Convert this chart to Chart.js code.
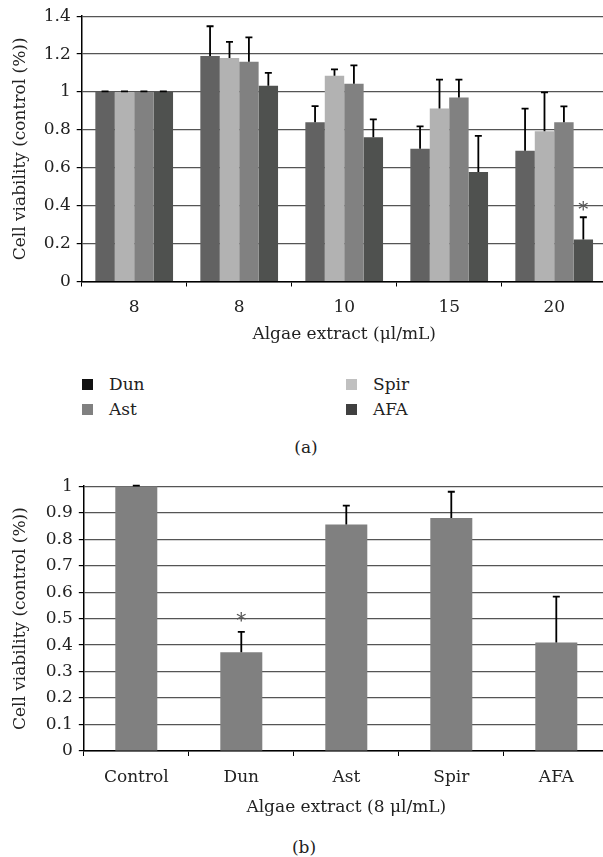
<!DOCTYPE html>
<html>
<head>
<meta charset="utf-8">
<script src="https://cdn.jsdelivr.net/npm/chart.js@4.4.1/dist/chart.umd.min.js"></script>
<style>
  html, body { margin: 0; padding: 0; background: #fff; overflow: hidden; width: 603px; height: 857px; }
  body { position: relative; font-family: "DejaVu Serif", serif; color: #222; }
  .box { position: absolute; left: 0; }
  .legend-item { position: absolute; font-size: 17px; line-height: 17px; white-space: nowrap; }
  .legend-item span.sw { position: absolute; left: 0; top: 3px; width: 11px; height: 11px; }
  .legend-item span.tx { position: absolute; top: 0; }
  .caption { position: absolute; font-size: 17px; transform: translateX(-50%); }
</style>
</head>
<body>
<div class="box" style="top:0;width:612px;height:345px"><canvas id="chartA"></canvas></div>
<div id="legendA"></div>
<div class="caption" style="left:306px;top:437px">(a)</div>
<div class="box" style="top:470px;width:612px;height:348px"><canvas id="chartB"></canvas></div>
<div class="caption" style="left:304px;top:837px">(b)</div>

<script>
// ---- data, panel (a) ----
const doseLabels = ['8', '8', '10', '15', '20'];
const dunValues  = [1.00, 1.19, 0.84, 0.70, 0.69];
const dunErrors  = [0.003, 0.157, 0.085, 0.119, 0.222];
const spirValues = [1.00, 1.18, 1.086, 0.913, 0.793];
const spirErrors = [0.003, 0.085, 0.033, 0.152, 0.205];
const astValues  = [1.00, 1.159, 1.044, 0.971, 0.84];
const astErrors  = [0.003, 0.129, 0.096, 0.094, 0.084];
const afaValues  = [1.00, 1.033, 0.761, 0.578, 0.222];
const afaErrors  = [0.003, 0.068, 0.095, 0.19, 0.117];
const afaStars   = [null, null, null, null, 0.395];

// ---- data, panel (b) ----
const extractLabels = ['Control', 'Dun', 'Ast', 'Spir', 'AFA'];
const extractValues = [1.00, 0.373, 0.855, 0.88, 0.41];
const extractErrors = [0.002, 0.077, 0.072, 0.099, 0.173];
const extractStars  = [null, 0.503, null, null, null];

const FONT = { family: '"DejaVu Serif", serif', size: 17 };
const TEXT = '#222';

// draws upper error bars and significance stars through the y scale
const errorBars = {
  id: 'errorBars',
  afterDatasetsDraw(chart) {
    const ctx = chart.ctx;
    const y = chart.scales.y;
    ctx.save();
    chart.data.datasets.forEach((ds, i) => {
      const meta = chart.getDatasetMeta(i);
      meta.data.forEach((bar, j) => {
        if (ds.errors) {
          const top = y.getPixelForValue(ds.data[j] + ds.errors[j]);
          ctx.strokeStyle = '#000';
          ctx.lineWidth = 1.8;
          ctx.beginPath();
          ctx.moveTo(bar.x, bar.y);
          ctx.lineTo(bar.x, top);
          ctx.moveTo(bar.x - 3.5, top);
          ctx.lineTo(bar.x + 3.5, top);
          ctx.stroke();
        }
        if (ds.stars && ds.stars[j] != null) {
          ctx.fillStyle = '#555';
          ctx.font = '20px "DejaVu Serif", serif';
          ctx.textAlign = 'center';
          ctx.textBaseline = 'middle';
          ctx.fillText('*', bar.x, y.getPixelForValue(ds.stars[j]) + 4);
        }
      });
    });
    ctx.restore();
  }
};

function fmt(v) { return String(Number(v.toFixed(1))); }

function makeOptions(o) {
  return {
    responsive: true,
    maintainAspectRatio: false,
    animation: false,
    layout: { padding: { top: o.padTop, left: 0, right: o.padRight, bottom: 0 } },
    plugins: { legend: { display: false }, tooltip: { enabled: false } },
    scales: {
      x: {
        afterFit: s => { s.height = o.xHeight; },
        grid: { display: true, drawOnChartArea: false, drawTicks: true, tickLength: 5, tickColor: '#000', offset: true },
        border: { color: '#000', width: 1.5 },
        ticks: { color: TEXT, font: FONT, padding: 11, maxRotation: 0 },
        title: { display: true, text: o.xTitle, color: TEXT, font: FONT, padding: { top: 0, bottom: 0 } }
      },
      y: {
        min: 0,
        max: o.yMax,
        afterFit: s => { s.width = o.yWidth; },
        grid: { color: '#555', lineWidth: 1.2, tickLength: 5, tickColor: '#000' },
        border: { color: '#000', width: 1.5 },
        ticks: { stepSize: o.step, color: TEXT, font: FONT, padding: 6, callback: fmt },
        title: { display: true, text: 'Cell viability (control (%))', color: TEXT, font: FONT, padding: { top: 10, bottom: 0 } }
      }
    }
  };
}

new Chart(document.getElementById('chartA'), {
  type: 'bar',
  data: {
    labels: doseLabels,
    datasets: [
      { label: 'Dun',  data: dunValues,  errors: dunErrors,  backgroundColor: '#626262' },
      { label: 'Spir', data: spirValues, errors: spirErrors, backgroundColor: '#b2b2b2' },
      { label: 'Ast',  data: astValues,  errors: astErrors,  backgroundColor: '#818181' },
      { label: 'AFA',  data: afaValues,  errors: afaErrors,  backgroundColor: '#4f514f', stars: afaStars }
    ].map(d => Object.assign(d, { categoryPercentage: 0.74, barPercentage: 1, borderWidth: 0 }))
  },
  options: makeOptions({ padTop: 14, padRight: 5.3, xHeight: 63.5, yWidth: 81.7, yMax: 1.4, step: 0.2,
                         xTitle: 'Algae extract (\u03bcl/mL)' }),
  plugins: [errorBars]
});

new Chart(document.getElementById('chartB'), {
  type: 'bar',
  data: {
    labels: extractLabels,
    datasets: [
      { label: 'Viability', data: extractValues, errors: extractErrors, stars: extractStars,
        backgroundColor: '#808080', borderWidth: 0, categoryPercentage: 0.4, barPercentage: 1 }
    ]
  },
  options: makeOptions({ padTop: 13, padRight: 3.2, xHeight: 67, yWidth: 83.8, yMax: 1, step: 0.1,
                         xTitle: 'Algae extract (8 \u03bcl/mL)' }),
  plugins: [errorBars]
});

// legend for panel (a), two columns as in the figure
const legendEntries = [
  { label: 'Dun',  color: '#111111', x: 82,  y: 376 },
  { label: 'Spir', color: '#c0c0c0', x: 346, y: 376 },
  { label: 'Ast',  color: '#808080', x: 82,  y: 401 },
  { label: 'AFA',  color: '#404040', x: 346, y: 401 }
];
const legendA = document.getElementById('legendA');
legendEntries.forEach(e => {
  const item = document.createElement('div');
  item.className = 'legend-item';
  item.style.left = e.x + 'px';
  item.style.top = e.y + 'px';
  item.innerHTML = '<span class="sw" style="background:' + e.color + '"></span><span class="tx" style="left:27px">' + e.label + '</span>';
  legendA.appendChild(item);
});
</script>
</body>
</html>
